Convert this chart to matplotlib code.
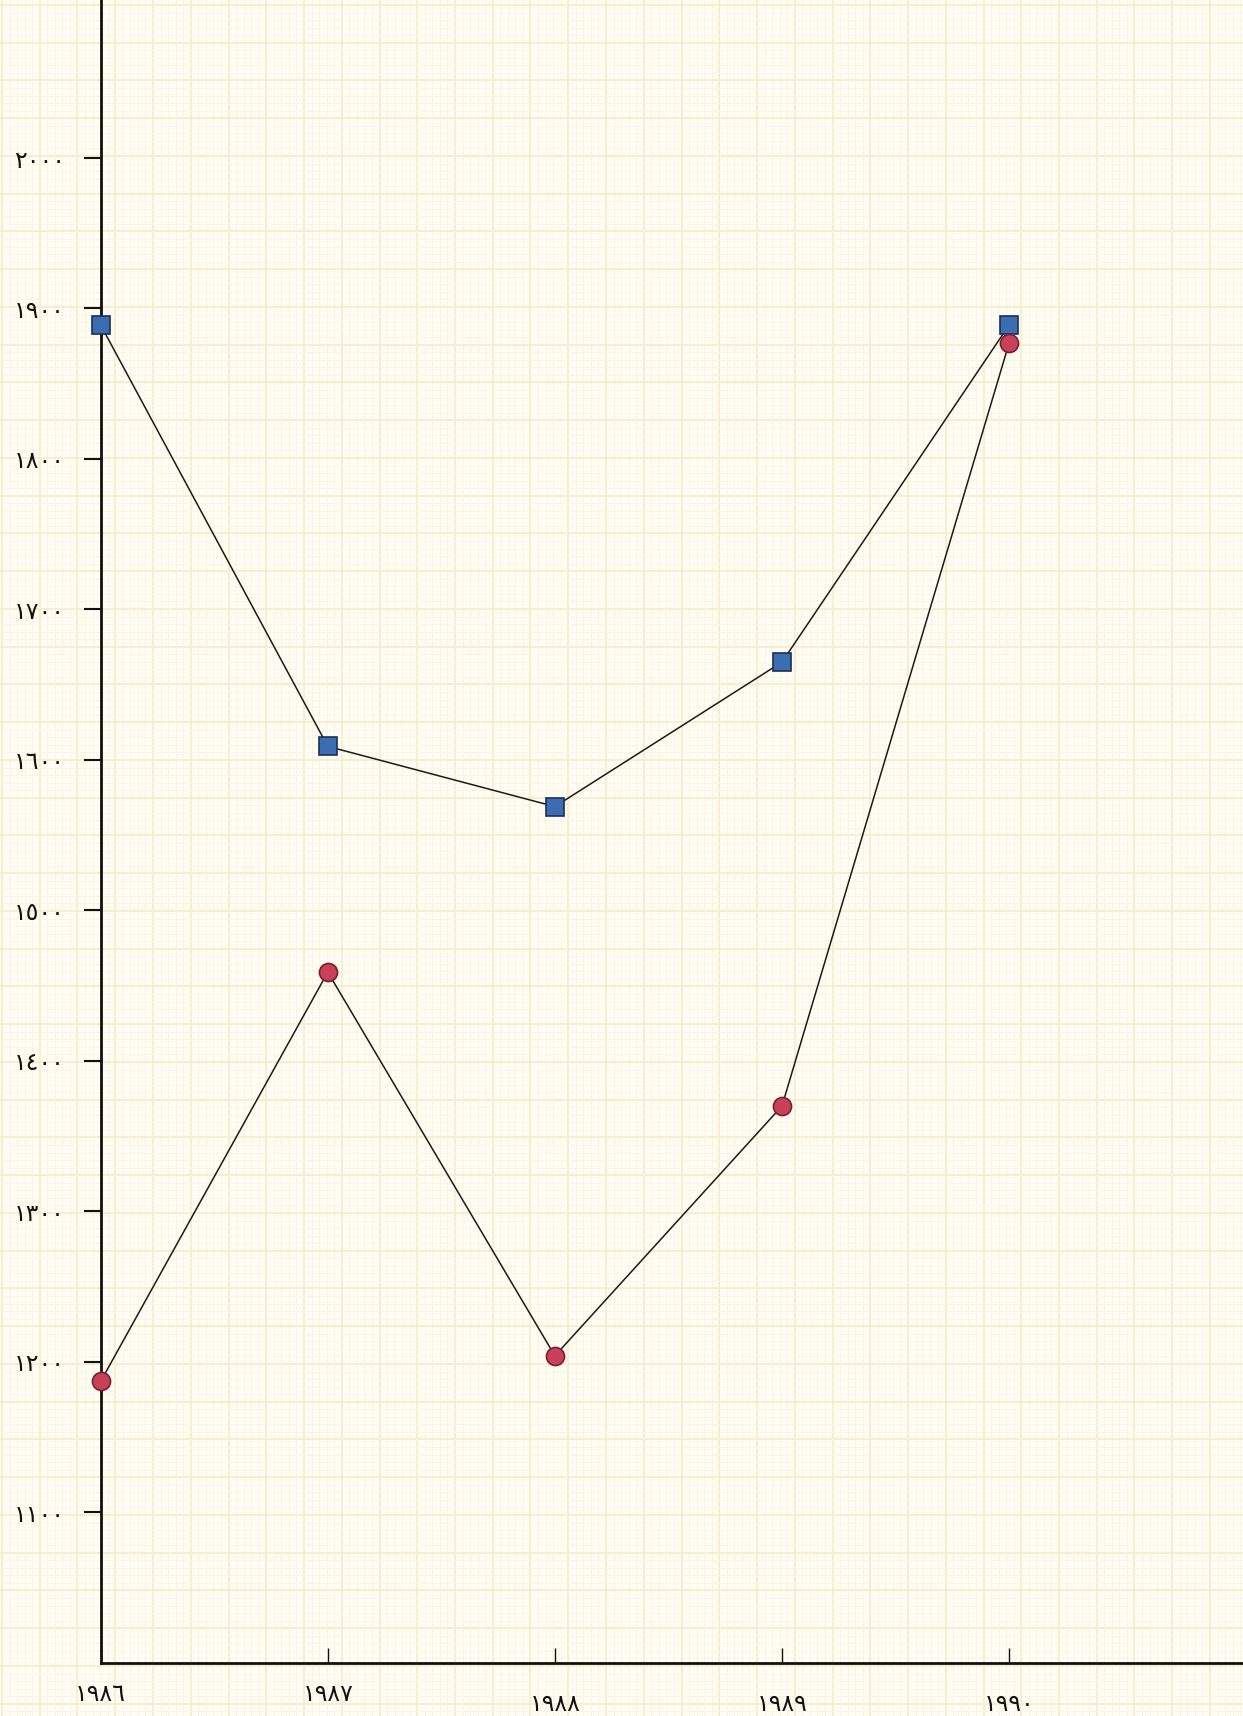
#!/usr/bin/env python3

import numpy as np
import matplotlib
matplotlib.use("Agg")
import matplotlib.pyplot as plt

# values
years = [1986, 1987, 1988, 1989, 1990]
blue_vals = [1889, 1609, 1569, 1665, 1889]
red_vals = [1187, 1459, 1204, 1370, 1877]

year_labels = ["١٩٨٦", "١٩٨٧", "١٩٨٨", "١٩٨٩", "١٩٩٠"]
y_ticks = [1100, 1200, 1300, 1400, 1500, 1600, 1700, 1800, 1900, 2000]
y_labels = ["١١٠٠", "١٢٠٠", "١٣٠٠", "١٤٠٠", "١٥٠٠", "١٦٠٠", "١٧٠٠", "١٨٠٠", "١٩٠٠", "٢٠٠٠"]

PAPER = "#fefcf3"
MINOR = "#f8f5e3"
MAJOR = "#f5eecf"

W, H = 1243, 1716
fig = plt.figure(figsize=(W / 100, H / 100), dpi=100, facecolor=PAPER)

# graph paper in the background
bg = fig.add_axes([0, 0, 1, 1], zorder=0)
bg.set_xlim(0, W)
bg.set_ylim(0, H)
bg.axis("off")
step = 7.55
for i, x in enumerate(np.arange(2, W, step)):
    major = i % 5 == 0
    bg.axvline(x, color=MAJOR if major else MINOR, lw=1.4 if major else 0.7)
for i, y in enumerate(np.arange(H - 5, 0, -step)):
    major = i % 5 == 0
    bg.axhline(y, color=MAJOR if major else MINOR, lw=1.4 if major else 0.7)

ax = fig.add_axes([0.081, 0.031, 0.919, 0.969], zorder=1)
ax.patch.set_alpha(0)
ax.set_xlim(1986, 1991.03)
ax.set_ylim(1000, 2105)

for side in ["top", "right"]:
    ax.spines[side].set_visible(False)
for side in ["left", "bottom"]:
    ax.spines[side].set_linewidth(2)
    ax.spines[side].set_color("#111111")

ax.plot(years, blue_vals, color="#1a1a1a", lw=1.1, zorder=2, clip_on=False)
ax.plot(years, red_vals, color="#1a1a1a", lw=1.1, zorder=2, clip_on=False)
ax.plot(years, blue_vals, ls="none", marker="s", ms=13, mfc="#3b6db3",
        mec="#1d2f55", mew=1.2, zorder=3, clip_on=False)
ax.plot(years, red_vals, ls="none", marker="o", ms=13, mfc="#c8405a",
        mec="#7a1f2e", mew=1.2, zorder=3, clip_on=False)

ax.set_yticks(y_ticks)
ax.set_yticklabels(y_labels, fontsize=17, family="DejaVu Sans")
ax.set_xticks(years)
ax.set_xticklabels(year_labels, fontsize=17, family="DejaVu Sans")
ax.tick_params(axis="y", direction="out", length=12, width=1.5, pad=14, colors="#111111")
ax.tick_params(axis="x", direction="in", length=11, width=1.0, pad=14, colors="#111111")
# the last three year labels sit a little lower in the drawing
for lab in ax.get_xticklabels()[2:]:
    lab.set_y(-0.006)

fig.savefig("out.png", dpi=100, facecolor=PAPER)
